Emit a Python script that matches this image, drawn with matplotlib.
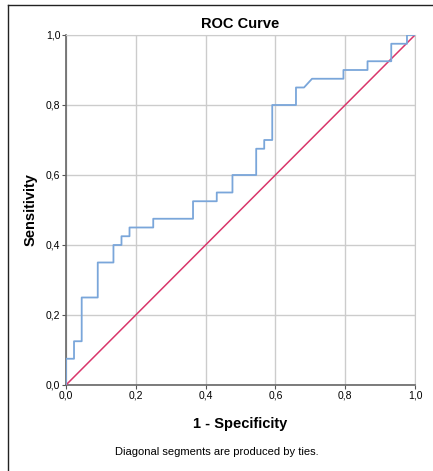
import matplotlib
matplotlib.use('Agg')
import matplotlib.pyplot as plt
from matplotlib.lines import Line2D

plt.rcParams['font.family'] = ['Liberation Sans', 'DejaVu Sans']

# ROC curve (1 - specificity, sensitivity)
fpr = [0.0, 0.0, 0.023, 0.023, 0.045, 0.045, 0.091, 0.091, 0.136, 0.136,
       0.159, 0.159, 0.182, 0.182, 0.25, 0.25, 0.364, 0.364, 0.432, 0.432,
       0.477, 0.477, 0.545, 0.545, 0.568, 0.568, 0.591, 0.591, 0.659, 0.659,
       0.682, 0.705, 0.795, 0.795, 0.864, 0.864, 0.932, 0.932, 0.977, 0.977, 1.0]
tpr = [0.0, 0.075, 0.075, 0.125, 0.125, 0.25, 0.25, 0.35, 0.35, 0.40,
       0.40, 0.425, 0.425, 0.45, 0.45, 0.475, 0.475, 0.525, 0.525, 0.55,
       0.55, 0.60, 0.60, 0.675, 0.675, 0.70, 0.70, 0.80, 0.80, 0.85,
       0.85, 0.875, 0.875, 0.90, 0.90, 0.925, 0.925, 0.975, 0.975, 1.0, 1.0]
ref_line = [0.0, 1.0]
ticks = [0.0, 0.2, 0.4, 0.6, 0.8, 1.0]
tick_labels = ['0,0', '0,2', '0,4', '0,6', '0,8', '1,0']

fig = plt.figure(figsize=(4.33, 4.71), dpi=100)
ax = fig.add_axes([0.1524, 0.1826, 0.806, 0.7431])

ax.plot(ref_line, ref_line, color='#d9366b', lw=1.1, zorder=3)
ax.plot(fpr, tpr, color='#7aa6da', lw=1.3, zorder=4)

ax.set_xlim(0, 1)
ax.set_ylim(0, 1)
ax.set_xticks(ticks)
ax.set_yticks(ticks)
ax.set_xticklabels(tick_labels)
ax.set_yticklabels(tick_labels)
ax.tick_params(labelsize=7.5, length=3, color='#555555', pad=1)
ax.grid(True, color='#cccccc', lw=1)
ax.set_axisbelow(True)
for side in ['top', 'right']:
    ax.spines[side].set_color('#cccccc')
for side in ['left', 'bottom']:
    ax.spines[side].set_color('#666666')
    ax.spines[side].set_linewidth(1.2)

ax.set_title('ROC Curve', fontsize=10.5, fontweight='bold', pad=5)
ax.set_xlabel('1 - Specificity', fontsize=10.5, fontweight='bold', labelpad=12)
ax.set_ylabel('Sensitivity', fontsize=10.5, fontweight='bold', labelpad=6)
fig.text(0.5, 0.04, 'Diagonal segments are produced by ties.', ha='center', va='center', fontsize=8)

# frame around the figure (top and left edges)
fig.add_artist(Line2D([8 / 433, 8 / 433], [0, 1 - 5 / 471], transform=fig.transFigure, color='#222222', lw=1))
fig.add_artist(Line2D([8 / 433, 1], [1 - 5 / 471, 1 - 5 / 471], transform=fig.transFigure, color='#222222', lw=1))

fig.savefig('out.png', dpi=100)
